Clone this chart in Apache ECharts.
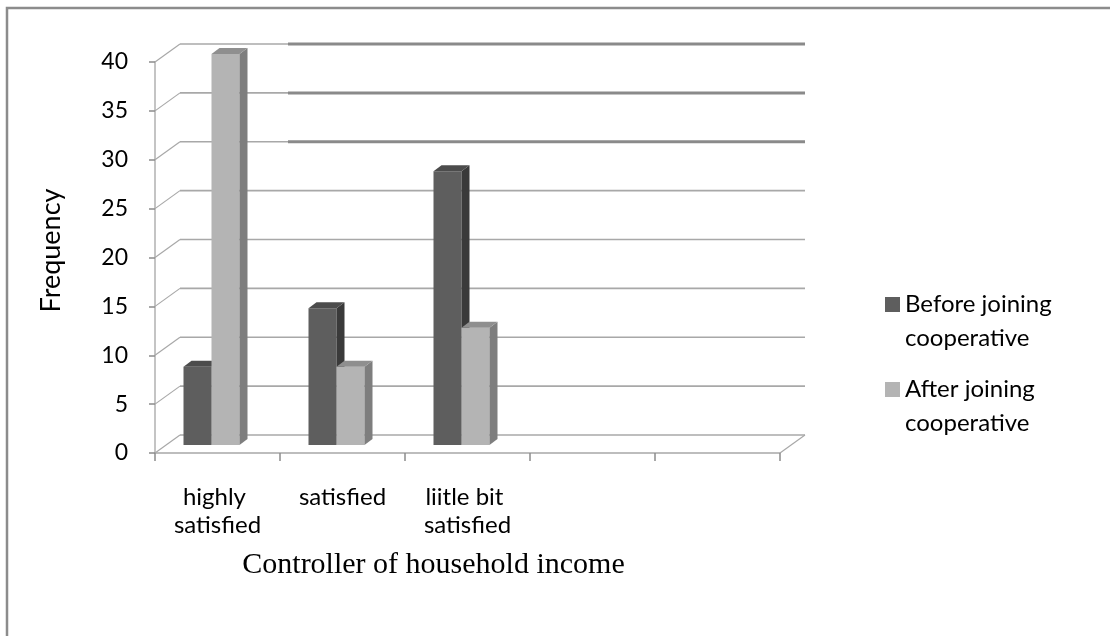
<!DOCTYPE html>
<html><head><meta charset="utf-8">
<script src="https://cdn.jsdelivr.net/npm/echarts@6/dist/echarts.min.js"></script>
<style>html,body{margin:0;padding:0;background:#fff}#c{width:1110px;height:636px}</style>
</head><body><div id="c"></div>
<script>
const categories = ['highly satisfied', 'satisfied', 'liitle bit satisfied', '', ''];
const beforeValues = [8, 14, 28];
const afterValues = [40, 8, 12];
const yTicks = [0, 5, 10, 15, 20, 25, 30, 35, 40];
const seriesNames = ['Before joining cooperative', 'After joining cooperative'];
const xTitle = 'Controller of household income';
const yTitle = 'Frequency';

const DX = 25, DY = -18;      // wall depth
const BDX = 8, BDY = -6;      // bar depth
const BAR_W = 28, BAR_SHIFT = -6, BAR_LIFT = -8;
const FONT = 'Lato, "Open Sans", sans-serif';

function barRenderer(offL, colors) {
  return function (params, api) {
    const i = api.value(0), v = api.value(1);
    const top = api.coord([i, v]), base = api.coord([i, 0]);
    const x0 = top[0] + offL, x1 = x0 + BAR_W;
    const yT = top[1] + BAR_LIFT, yB = base[1] + BAR_LIFT;
    return { type: 'group', children: [
      { type: 'rect', shape: { x: x0, y: yT, width: BAR_W, height: yB - yT }, style: { fill: colors[0] } },
      { type: 'polygon', shape: { points: [[x1, yB], [x1, yT], [x1 + BDX, yT + BDY], [x1 + BDX, yB + BDY]] }, style: { fill: colors[1] } },
      { type: 'polygon', shape: { points: [[x0, yT], [x1, yT], [x1 + BDX, yT + BDY], [x0 + BDX, yT + BDY]] }, style: { fill: colors[2] } }
    ]};
  };
}

function wallRenderer(params, api) {
  const v = api.value(1);
  const y = api.coord([0, v])[1];
  const cs = params.coordSys;
  const xl = cs.x, xr = cs.x + cs.width;
  const children = [
    { type: 'line', shape: { x1: xl, y1: y, x2: xl + DX, y2: y + DY }, style: { stroke: '#a8a8a8', lineWidth: 1.2 } },
    { type: 'line', shape: { x1: xl + DX, y1: y + DY, x2: xr + DX, y2: y + DY }, style: { stroke: '#a8a8a8', lineWidth: 1.6 } }
  ];
  if (v === 0) children.push({ type: 'line', shape: { x1: xr, y1: y, x2: xr + DX, y2: y + DY }, style: { stroke: '#a8a8a8', lineWidth: 1.2 } });
  if (v >= 30) children.push({ type: 'line', shape: { x1: xl + 133, y1: y + DY, x2: xr + DX, y2: y + DY }, style: { stroke: '#8a8a8a', lineWidth: 3 } });
  return { type: 'group', children };
}

const legendIcon = 'path://M0,0M0,10L15,10L15,25L0,25ZM15,68';

const chart = echarts.init(document.getElementById('c'));
chart.setOption({
  animation: false,
  backgroundColor: '#fff',
  graphic: [{ type: 'rect', shape: { x: 7, y: 8, width: 1200, height: 700 }, style: { fill: 'none', stroke: '#8c8c8c', lineWidth: 2.5 }, z: 100 }],
  grid: { left: 155, right: 330, top: 62, bottom: 183 },
  legend: {
    orient: 'vertical', left: 880, top: 282, itemWidth: 15, itemHeight: 68, itemGap: 17,
    data: seriesNames.map(n => ({ name: n, icon: legendIcon })),
    formatter: n => n.replace(' cooperative', '\ncooperative'),
    textStyle: { fontFamily: FONT, fontSize: 24, lineHeight: 34, color: '#000' }
  },
  xAxis: {
    type: 'category', data: categories,
    axisLine: { lineStyle: { color: '#a8a8a8', width: 1.6 } },
    axisTick: { show: true, interval: 0, length: 8, lineStyle: { color: '#8c8c8c', width: 1.5 } },
    axisLabel: { interval: 0, width: 104, overflow: 'break', fontFamily: FONT, fontSize: 24, lineHeight: 28, color: '#000', margin: 30 },
    name: xTitle, nameLocation: 'middle', nameGap: 97,
    nameTextStyle: { fontFamily: '"Liberation Serif", "Times New Roman", serif', fontSize: 30, color: '#000', padding: [0, 68, 0, 0] }
  },
  yAxis: {
    type: 'value', min: 0, max: 40, interval: 5,
    axisLine: { show: true, lineStyle: { color: '#b0b0b0', width: 1.5 } },
    axisTick: { show: true, length: 6, lineStyle: { color: '#8c8c8c', width: 1.5 } },
    splitLine: { show: false },
    axisLabel: { fontFamily: FONT, fontSize: 23, color: '#000', margin: 27 },
    name: yTitle, nameLocation: 'middle', nameGap: 90,
    nameTextStyle: { fontFamily: FONT, fontSize: 27, color: '#000', padding: [0, 0, 0, 14] }
  },
  series: [
    { type: 'custom', name: 'walls', silent: true, clip: false, z: 1, renderItem: wallRenderer,
      data: yTicks.map(v => [0, v]), encode: { x: 0, y: 1 } },
    { type: 'custom', name: seriesNames[0], clip: false, z: 2, itemStyle: { color: '#5e5e5e' },
      renderItem: barRenderer(BAR_SHIFT - BAR_W, ['#5e5e5e', '#3a3a3a', '#4c4c4c']),
      data: beforeValues.map((v, i) => [i, v]), encode: { x: 0, y: 1 } },
    { type: 'custom', name: seriesNames[1], clip: false, z: 3, itemStyle: { color: '#b4b4b4' },
      renderItem: barRenderer(BAR_SHIFT, ['#b4b4b4', '#7e7e7e', '#8f8f8f']),
      data: afterValues.map((v, i) => [i, v]), encode: { x: 0, y: 1 } }
  ]
});
</script></body></html>
